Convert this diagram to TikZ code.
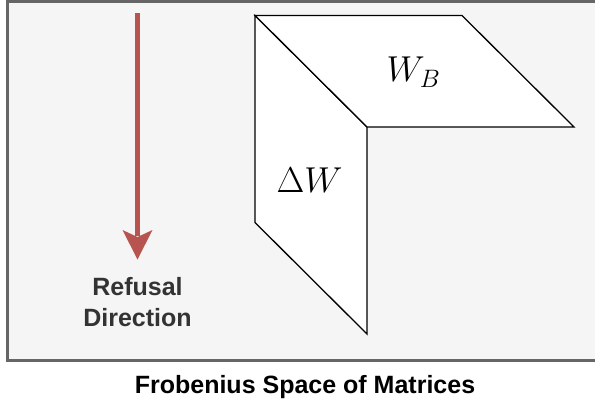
\RequirePackage{fix-cm}
\documentclass[tikz,border=0pt]{standalone}
\usepackage{fontspec}
\newfontfamily\lsans{Liberation Sans}
\definecolor{framegray}{HTML}{666666}
\definecolor{framefill}{HTML}{F5F5F5}
\definecolor{arrowred}{HTML}{B85450}
\definecolor{labelgray}{HTML}{333333}
\begin{document}
\begin{tikzpicture}[x=1pt,y=-1pt,
  plane/.style={draw=black, fill=white, line width=1.3pt, line join=miter},
  sanslabel/.style={font=\lsans\bfseries\fontsize{25}{31}\selectfont, inner sep=0pt, align=center},
  mathlabel/.style={font=\fontsize{36}{40}\selectfont, inner sep=0pt}]
\useasboundingbox (0,0) rectangle (595,404);
\begin{scope}
\clip (0,0) rectangle (595,404);
\draw[framegray, fill=framefill, line width=2.6pt] (7.5,1.3) rectangle (610,360.7);
\end{scope}
% arrow
\coordinate (arrowtop) at (137.5,13.5);
\coordinate (arrowbase) at (137.5,236);
\coordinate (arrowtip) at (137.5,259.5);
\coordinate (wingl) at (122.5,230);
\coordinate (wingr) at (152.5,230);
\coordinate (notch) at (137.5,237);
\draw[arrowred, line width=5pt] (arrowtop) -- (arrowbase);
\fill[arrowred] (arrowtip) -- (wingl) -- (notch) -- (wingr) -- cycle;
\node[sanslabel, text=labelgray, anchor=base] (refusal) at (137.5,295.7) {Refusal};
\node[sanslabel, text=labelgray, anchor=base] (direction) at (137.5,326.7) {Direction};
% planes
\coordinate (a) at (255,15.5);
\coordinate (b) at (462,15.5);
\coordinate (c) at (574,127);
\coordinate (d) at (367,127);
\coordinate (e) at (367,334);
\coordinate (f) at (255,222.5);
\draw[plane] (a) -- (d) -- (e) -- (f) -- cycle;
\draw[plane] (a) -- (b) -- (c) -- (d) -- cycle;
\node[mathlabel, anchor=base] (dw) at (309.5,192) {$\Delta W$};
\node[mathlabel, anchor=base] (wb) at (413.5,81.7) {$W_B$};
\node[sanslabel, text=black, anchor=base] (title) at (305,393.3) {Frobenius Space of Matrices};
\end{tikzpicture}
\end{document}
